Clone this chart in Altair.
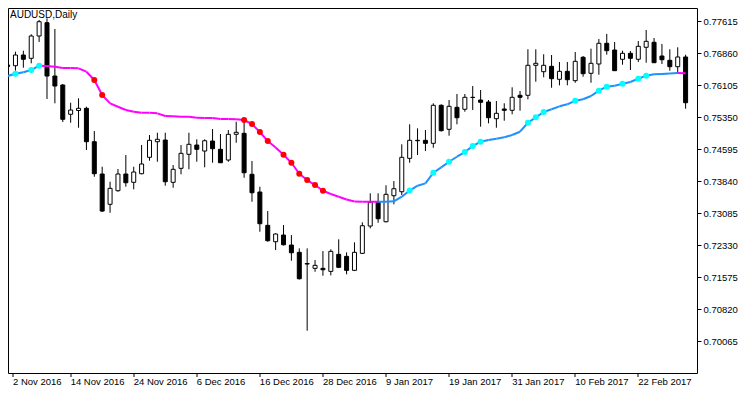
import altair as alt
import pandas as pd

# ---------------- data ----------------
tick_labels = ["2 Nov 2016", "14 Nov 2016", "24 Nov 2016", "6 Dec 2016", "16 Dec 2016",
               "28 Dec 2016", "9 Jan 2017", "19 Jan 2017", "31 Jan 2017", "10 Feb 2017",
               "22 Feb 2017"]
tick_bars = [0, 8, 16, 24, 32, 40, 48, 56, 64, 72, 80]
price_ticks = [0.70065, 0.70820, 0.71575, 0.72330, 0.73085, 0.73840,
               0.74595, 0.75350, 0.76105, 0.76860, 0.77615]

opens = [0.76577, 0.76560, 0.76813, 0.76735, 0.77261, 0.77575, 0.76317, 0.76105, 0.75414, 0.75503,
         0.75555, 0.74767, 0.74005, 0.73290, 0.73611, 0.74005, 0.73809, 0.74012, 0.74399, 0.74767,
         0.74807, 0.73809, 0.74139, 0.74470, 0.74689, 0.74547, 0.74783, 0.74588, 0.74335, 0.74942,
         0.74965, 0.73998, 0.73580, 0.72794, 0.72407, 0.72565, 0.72329, 0.72157, 0.71892, 0.71779,
         0.71779, 0.71708, 0.72110, 0.72062, 0.71732, 0.72133, 0.72777, 0.73337, 0.72879, 0.73493,
         0.73587, 0.74375, 0.74790, 0.74800, 0.74729, 0.75626, 0.75060, 0.75579, 0.75532, 0.75810,
         0.75751, 0.75704, 0.75310, 0.75539, 0.75508, 0.75862, 0.75862, 0.76570, 0.76419, 0.76546,
         0.76240, 0.76428, 0.76207, 0.76759, 0.76381, 0.76601, 0.77089, 0.76931, 0.76712, 0.76853,
         0.76712, 0.76995, 0.77113, 0.76789, 0.76688, 0.76537, 0.76766]
highs = [0.76624, 0.76891, 0.76915, 0.77302, 0.77639, 0.77679, 0.77427, 0.76129, 0.75687, 0.75791,
         0.75593, 0.75019, 0.74177, 0.73823, 0.74123, 0.74453, 0.74177, 0.74689, 0.74925, 0.74979,
         0.74979, 0.74217, 0.74689, 0.74979, 0.74824, 0.74824, 0.75067, 0.74949, 0.75043, 0.75239,
         0.75303, 0.74311, 0.73705, 0.73131, 0.72605, 0.72801, 0.72565, 0.72251, 0.72251, 0.71975,
         0.72187, 0.72228, 0.72464, 0.72157, 0.72393, 0.72865, 0.73549, 0.73549, 0.73738, 0.73839,
         0.74706, 0.75178, 0.75083, 0.75043, 0.75673, 0.75650, 0.75751, 0.75893, 0.75893, 0.76081,
         0.75987, 0.75751, 0.75727, 0.75673, 0.76051, 0.75963, 0.76948, 0.76948, 0.76830, 0.76813,
         0.76648, 0.76648, 0.76884, 0.76789, 0.76962, 0.77191, 0.77309, 0.77120, 0.76915, 0.76907,
         0.77143, 0.77403, 0.77214, 0.77073, 0.76948, 0.76995, 0.76820]
lows = [0.76506, 0.76443, 0.76513, 0.76617, 0.77120, 0.75775, 0.75673, 0.75232, 0.75215, 0.75097,
        0.74571, 0.73941, 0.73108, 0.73091, 0.73587, 0.73705, 0.73644, 0.73998, 0.74319, 0.74295,
        0.73729, 0.73681, 0.73998, 0.74116, 0.74295, 0.74163, 0.74271, 0.74264, 0.74295, 0.74743,
        0.73917, 0.73351, 0.72643, 0.72407, 0.72211, 0.72317, 0.71959, 0.71515, 0.70307, 0.71699,
        0.71605, 0.71614, 0.71786, 0.71638, 0.71715, 0.72117, 0.72723, 0.72855, 0.72865, 0.73290,
        0.73509, 0.74271, 0.74453, 0.74547, 0.74625, 0.75008, 0.74909, 0.75178, 0.75475, 0.75515,
        0.75121, 0.75201, 0.75097, 0.75263, 0.75414, 0.75499, 0.75768, 0.76183, 0.76287, 0.76041,
        0.76098, 0.76098, 0.76159, 0.76301, 0.76159, 0.76348, 0.76820, 0.76435, 0.76584, 0.76459,
        0.76648, 0.76631, 0.76624, 0.76601, 0.76443, 0.76381, 0.75546]
closes = [0.76542, 0.76813, 0.76712, 0.77261, 0.77599, 0.76317, 0.76081, 0.75296, 0.75515, 0.75555,
          0.74767, 0.74012, 0.73131, 0.73667, 0.74005, 0.73799, 0.74052, 0.74241, 0.74800, 0.74824,
          0.73823, 0.74116, 0.74493, 0.74706, 0.74588, 0.74790, 0.74602, 0.74271, 0.74942, 0.74989,
          0.74035, 0.73563, 0.72832, 0.72431, 0.72589, 0.72336, 0.72147, 0.71534, 0.71881, 0.71850,
          0.71746, 0.72180, 0.71803, 0.71732, 0.72157, 0.72785, 0.73337, 0.72950, 0.73526, 0.73658,
          0.74399, 0.74800, 0.74800, 0.74729, 0.75626, 0.75027, 0.75602, 0.75333, 0.75815, 0.75815,
          0.75697, 0.75333, 0.75437, 0.75508, 0.75815, 0.75815, 0.76570, 0.76617, 0.76570, 0.76254,
          0.76428, 0.76230, 0.76664, 0.76372, 0.76617, 0.77089, 0.76915, 0.76443, 0.76853, 0.76735,
          0.77018, 0.77136, 0.76631, 0.76702, 0.76537, 0.76766, 0.75687]

# smoothed average line (value per bar) and its direction (1 = rising, 0 = falling)
ma = [0.76317, 0.76372, 0.76405, 0.76459, 0.76560, 0.76553, 0.76537, 0.76506, 0.76506, 0.76499,
      0.76419, 0.76223, 0.75869, 0.75673, 0.75593, 0.75515, 0.75475, 0.75451, 0.75449, 0.75437,
      0.75373, 0.75366, 0.75357, 0.75355, 0.75333, 0.75326, 0.75325, 0.75303, 0.75302, 0.75296,
      0.75279, 0.75185, 0.74996, 0.74783, 0.74630, 0.74460, 0.74271, 0.74012, 0.73863, 0.73745,
      0.73611, 0.73533, 0.73469, 0.73403, 0.73356, 0.73351, 0.73350, 0.73348, 0.73351, 0.73360,
      0.73469, 0.73615, 0.73729, 0.73785, 0.74035, 0.74163, 0.74295, 0.74413, 0.74524, 0.74665,
      0.74767, 0.74807, 0.74838, 0.74871, 0.74925, 0.75003, 0.75215, 0.75343, 0.75468, 0.75532,
      0.75602, 0.75650, 0.75735, 0.75768, 0.75845, 0.75971, 0.76065, 0.76089, 0.76136, 0.76176,
      0.76254, 0.76325, 0.76358, 0.76365, 0.76376, 0.76388, 0.76384]
ma_up = [1] * 5 + [0] * 43 + [1] * 38 + [0]

red_dots = [11, 12, 30, 31, 32, 33, 35, 36, 37, 38, 39, 40]
cyan_dots = [1, 3, 4, 51, 54, 56, 58, 59, 60, 66, 67, 68, 72, 75, 76, 78, 80, 81]

chart_label = "AUDUSD,Daily"

# ---------------- tables ----------------
n = len(opens)
candles = pd.DataFrame({"bar": list(range(n)), "open": opens, "high": highs,
                        "low": lows, "close": closes})
candles["dir"] = ["up" if c >= o else "down" for o, c in zip(opens, closes)]

segments = pd.DataFrame({"b0": list(range(n - 1)), "b1": list(range(1, n)),
                         "m0": ma[:-1], "m1": ma[1:],
                         "trend": ["up" if u else "down" for u in ma_up[1:]]})

dots = pd.DataFrame({"bar": red_dots + cyan_dots,
                     "val": [ma[i] for i in red_dots] + [ma[i] for i in cyan_dots],
                     "kind": ["sell"] * len(red_dots) + ["buy"] * len(cyan_dots)})

# ---------------- chart ----------------
FONT = "Liberation Sans"
W, H = 689, 365
X_DOMAIN = [0.6875, 86.8125]
Y_DOMAIN = [0.69310, 0.77922]

xscale = alt.Scale(domain=X_DOMAIN, nice=False, zero=False)
yscale = alt.Scale(domain=Y_DOMAIN, nice=False, zero=False)

label_expr = "[" + ",".join("'%s'" % s for s in tick_labels) + "][round(datum.value/8)]"

x_axis = alt.Axis(values=[max(v, X_DOMAIN[0]) for v in tick_bars], labelExpr=label_expr,
                  orient="bottom", title=None, grid=False, domain=False,
                  tickSize=4, tickColor="black", tickWidth=1,
                  labelAlign="left", labelBaseline="top", labelPadding=0,
                  labelFont=FONT, labelFontSize=9.5, labelColor="black",
                  labelFlush=False, labelOverlap=False, translate=0)
y_axis = alt.Axis(values=price_ticks, format=".5f", orient="right", title=None,
                  grid=False, domain=False, tickSize=4, tickColor="black", tickWidth=1,
                  labelAlign="left", labelBaseline="middle", labelPadding=2,
                  labelFont=FONT, labelFontSize=9.5, labelColor="black",
                  labelFlush=False, labelOverlap=False)

base = alt.Chart(candles)

wicks = base.mark_rule(color="black", strokeWidth=1, clip=True).encode(
    x=alt.X("bar:Q", scale=xscale, axis=x_axis),
    y=alt.Y("low:Q", scale=yscale, axis=y_axis),
    y2="high:Q",
)

bodies = base.mark_bar(size=4, stroke="black", strokeWidth=1, clip=True).encode(
    x=alt.X("bar:Q", scale=xscale, axis=x_axis),
    y=alt.Y("open:Q", scale=yscale, axis=y_axis),
    y2="close:Q",
    fill=alt.Fill("dir:N", scale=alt.Scale(domain=["up", "down"], range=["white", "black"]),
                  legend=None),
)

line = alt.Chart(segments).mark_rule(strokeWidth=2, clip=True).encode(
    x=alt.X("b0:Q", scale=xscale, axis=x_axis),
    x2="b1:Q",
    y=alt.Y("m0:Q", scale=yscale, axis=y_axis),
    y2="m1:Q",
    stroke=alt.Stroke("trend:N", scale=alt.Scale(domain=["up", "down"],
                                                 range=["#1E90FF", "#FF00FF"]), legend=None),
)

signal = alt.Chart(dots).mark_circle(size=36, opacity=1, clip=True).encode(
    x=alt.X("bar:Q", scale=xscale, axis=x_axis),
    y=alt.Y("val:Q", scale=yscale, axis=y_axis),
    color=alt.Color("kind:N", scale=alt.Scale(domain=["sell", "buy"],
                                              range=["#FF0000", "#00FFFF"]), legend=None),
)

label = alt.Chart(pd.DataFrame({"t": [chart_label]})).mark_text(
    align="left", baseline="alphabetic", font=FONT, fontSize=10, color="black"
).encode(x=alt.value(2), y=alt.value(10), text="t:N")

chart = alt.layer(wicks, bodies, line, signal, label).properties(
    width=W, height=H,
    padding={"left": 0, "top": 0, "right": 45, "bottom": 14},
    autosize=alt.AutoSizeParams(type="none"),
    background="white",
).configure_view(stroke="black", strokeWidth=1)

chart.save("out.html", embed_options={"renderer": "svg", "actions": False})
